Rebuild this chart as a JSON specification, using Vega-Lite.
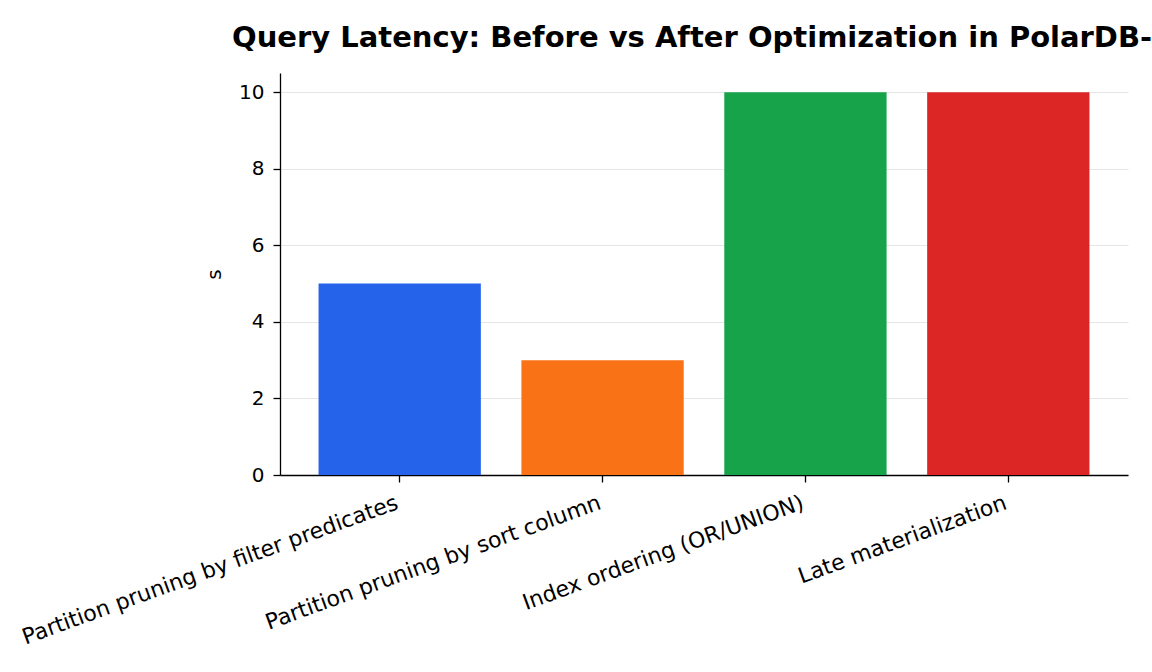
{
  "$schema": "https://vega.github.io/schema/vega-lite/v6.json",
  "autosize": {"type": "none"},
  "padding": {"left": 280, "top": 73, "right": 24, "bottom": 197},
  "width": 848,
  "height": 402,
  "background": "white",
  "title": {
    "text": "Query Latency: Before vs After Optimization in PolarDB-",
    "anchor": "start",
    "frame": "group",
    "dx": -48,
    "baseline": "alphabetic",
    "offset": -3,
    "font": "DejaVu Sans",
    "fontSize": 29,
    "fontWeight": "bold",
    "color": "#000000"
  },
  "config": {
    "view": {"stroke": null},
    "font": "DejaVu Sans"
  },
  "data": {
    "values": [
      {"optimization": "Partition pruning by filter predicates", "latency": 5},
      {"optimization": "Partition pruning by sort column", "latency": 3},
      {"optimization": "Index ordering (OR/UNION)", "latency": 10},
      {"optimization": "Late materialization", "latency": 10}
    ]
  },
  "mark": {"type": "bar"},
  "encoding": {
    "x": {
      "field": "optimization",
      "type": "nominal",
      "sort": null,
      "scale": {"paddingInner": 0.2, "paddingOuter": 0.19},
      "axis": {
        "title": null,
        "labelAngle": -20,
        "labelAlign": "right",
        "labelBaseline": "top",
        "labelFontSize": 22,
        "labelColor": "#000000",
        "labelPadding": 10,
        "labelOffset": -6,
        "labelLimit": 0,
        "domainColor": "#000000",
        "domainWidth": 1.3,
        "tickColor": "#000000",
        "tickWidth": 1.3,
        "tickSize": 7,
        "grid": false
      }
    },
    "y": {
      "field": "latency",
      "type": "quantitative",
      "scale": {"domain": [0, 10.5], "nice": false, "zero": true},
      "axis": {
        "title": "s",
        "titleFontSize": 20,
        "titleFontWeight": "normal",
        "titleColor": "#000000",
        "titlePadding": 14,
        "values": [0, 2, 4, 6, 8, 10],
        "labelFontSize": 20,
        "labelColor": "#000000",
        "labelPadding": 9,
        "domainColor": "#000000",
        "domainWidth": 1.3,
        "tickColor": "#000000",
        "tickWidth": 1.3,
        "tickSize": 7,
        "grid": true,
        "gridColor": "#e6e6e6",
        "gridWidth": 1
      }
    },
    "color": {
      "field": "optimization",
      "type": "nominal",
      "sort": null,
      "legend": null,
      "scale": {
        "domain": [
          "Partition pruning by filter predicates",
          "Partition pruning by sort column",
          "Index ordering (OR/UNION)",
          "Late materialization"
        ],
        "range": ["#2563eb", "#f97316", "#16a34a", "#dc2626"]
      }
    }
  }
}
